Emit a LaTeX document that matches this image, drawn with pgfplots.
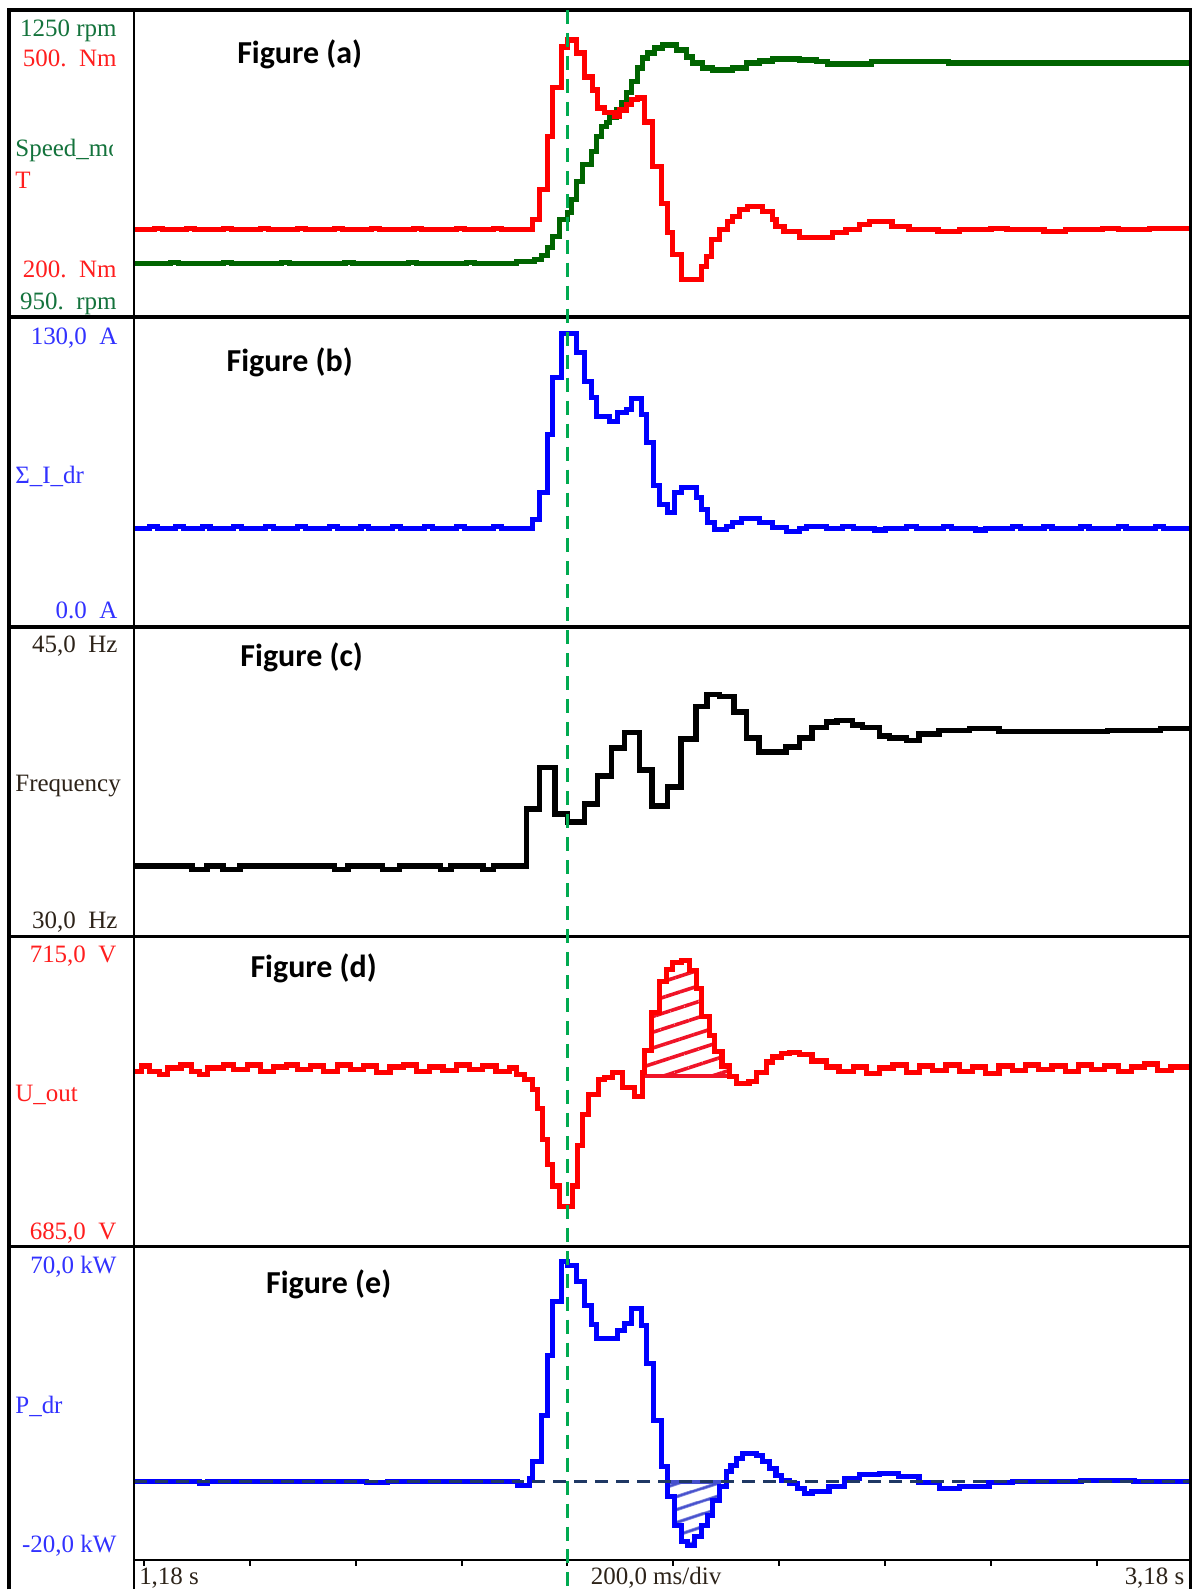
\documentclass[border=0pt]{standalone}
\usepackage{pgfplots}
\pgfplotsset{compat=1.18}
\usetikzlibrary{patterns.meta}
\usepackage{fontspec}
\setmainfont{Liberation Serif}
\newfontfamily\titlefont{Carlito}

\definecolor{spd}{RGB}{0,100,0}
\definecolor{spdlbl}{RGB}{20,115,60}
\definecolor{lblred}{RGB}{255,30,30}
\definecolor{lblblue}{RGB}{50,50,255}
\definecolor{lbldark}{RGB}{45,35,25}
\definecolor{cursor}{RGB}{0,170,80}
\definecolor{zeroline}{RGB}{31,56,100}
\definecolor{hatchblue}{RGB}{70,80,205}
\definecolor{hatchred}{RGB}{240,20,40}

\pgfplotsset{
  panel/.style={scale only axis, width=529bp, hide axis,
    xmin=1.1611, xmax=3.1574, anchor=north west},
  trace/.style={const plot, no marks, line width=2.6bp},
}

\newcommand{\lbl}{\fontsize{12.5bp}{14bp}\selectfont}
\newcommand{\ttl}{\titlefont\bfseries\fontsize{16bp}{18bp}\selectfont}

\begin{document}
\begin{tikzpicture}
\begin{scope}[x=0.5bp,y=-0.5bp]
  \fill[white] (0,0) rectangle (1195,1591);
  \useasboundingbox (0,0) rectangle (1195,1591);
\end{scope}

% ---------- (a) speed and torque ----------
\begin{axis}[panel, at={(67bp,-5bp)}, height=152.5bp, ymin=950, ymax=1250]
\addplot[trace, spd] coordinates {
(1.161,1000.2) (1.230,1001.7) (1.245,1000.2) (1.330,1001.7) (1.345,1000.2)
(1.440,1001.7) (1.455,1000.2) (1.560,1001.7) (1.575,1000.2) (1.680,1001.7)
(1.695,1000.2) (1.790,1001.7) (1.805,1000.2) (1.884,1002.1) (1.918,1004.1)
(1.931,1008.0) (1.942,1015.9) (1.952,1026.7) (1.965,1043.4) (1.980,1050.3)
(1.988,1063.1) (1.997,1080.8) (2.008,1097.5) (2.025,1110.3) (2.035,1125.1)
(2.044,1134.9) (2.054,1138.9) (2.059,1143.8) (2.072,1151.6) (2.082,1158.5)
(2.091,1168.4) (2.101,1179.2) (2.112,1192.9) (2.122,1202.8) (2.131,1207.7)
(2.144,1212.6) (2.159,1215.6) (2.186,1210.7) (2.205,1203.8) (2.216,1197.9)
(2.235,1192.9) (2.254,1191.0) (2.291,1192.9) (2.318,1197.9) (2.342,1199.8)
(2.367,1201.8) (2.418,1200.8) (2.450,1198.9) (2.471,1196.9) (2.555,1198.9)
(2.700,1197.9) (2.850,1197.9) (3.158,1197.9)};
\end{axis}
\begin{axis}[panel, at={(67bp,-5bp)}, height=152.5bp, ymin=200, ymax=500]
\addplot[trace, red] coordinates {
(1.161,283.6) (1.200,285.1) (1.215,283.6) (1.260,285.1) (1.275,283.6)
(1.330,285.1) (1.345,283.6) (1.400,285.1) (1.415,283.6) (1.470,285.1)
(1.485,283.6) (1.540,285.1) (1.555,283.6) (1.610,285.1) (1.625,283.6)
(1.690,285.1) (1.705,283.6) (1.770,285.1) (1.785,283.6) (1.840,285.1)
(1.855,283.6) (1.914,293.4) (1.927,323.0) (1.942,375.1) (1.952,423.3)
(1.969,463.6) (1.980,470.5) (1.997,457.7) (2.012,434.1) (2.027,421.3)
(2.037,403.6) (2.050,398.7) (2.069,394.8) (2.078,401.6) (2.091,406.6)
(2.101,411.5) (2.112,413.4) (2.125,389.8) (2.140,345.6) (2.157,309.2)
(2.169,280.7) (2.178,259.0) (2.195,234.4) (2.233,247.2) (2.242,257.0)
(2.252,273.8) (2.267,283.6) (2.282,291.5) (2.291,296.4) (2.305,303.3)
(2.320,306.2) (2.348,301.3) (2.367,293.4) (2.374,286.6) (2.389,281.6)
(2.418,275.7) (2.480,280.7) (2.506,283.6) (2.531,288.5) (2.550,291.5)
(2.593,286.6) (2.625,283.6) (2.680,281.6) (2.720,283.6) (2.780,285.1)
(2.810,283.6) (2.880,281.6) (2.920,283.6) (2.990,285.1) (3.020,283.6)
(3.080,285.1) (3.110,284.6) (3.158,284.6)};
\end{axis}

% ---------- (b) current ----------
\begin{axis}[panel, at={(67bp,-160bp)}, height=152.5bp, ymin=0, ymax=130]
\addplot[trace, blue] coordinates {
(1.161,40.9) (1.190,41.6) (1.205,40.9) (1.240,41.6) (1.255,40.9)
(1.290,41.6) (1.305,40.9) (1.350,41.6) (1.365,40.9) (1.410,41.6)
(1.425,40.9) (1.470,41.6) (1.485,40.9) (1.530,41.6) (1.545,40.9)
(1.590,41.6) (1.605,40.9) (1.650,41.6) (1.665,40.9) (1.710,41.6)
(1.725,40.9) (1.770,41.6) (1.785,40.9) (1.840,41.6) (1.855,40.9)
(1.914,44.8) (1.927,56.3) (1.942,81.0) (1.952,105.3) (1.969,124.0)
(1.997,115.9) (2.012,103.6) (2.025,96.7) (2.035,88.6) (2.059,86.5)
(2.074,90.4) (2.091,91.6) (2.101,96.3) (2.120,89.5) (2.129,77.6)
(2.142,59.2) (2.154,51.1) (2.169,47.7) (2.182,56.3) (2.195,58.4)
(2.223,54.1) (2.233,49.0) (2.244,43.5) (2.257,40.5) (2.280,41.8)
(2.291,43.5) (2.308,45.2) (2.342,43.5) (2.367,41.3) (2.393,39.6)
(2.418,40.9) (2.431,41.8) (2.470,40.9) (2.500,41.6) (2.520,40.9)
(2.560,40.3) (2.580,40.9) (2.620,41.6) (2.640,40.9) (2.690,41.6)
(2.705,40.9) (2.750,40.3) (2.770,40.9) (2.820,41.6) (2.835,40.9)
(2.880,41.6) (2.895,40.9) (2.950,41.6) (2.965,40.9) (3.020,41.6)
(3.035,40.9) (3.090,41.6) (3.105,40.9) (3.158,40.9)};
\end{axis}

% ---------- (c) frequency ----------
\begin{axis}[panel, at={(67bp,-315bp)}, height=152.5bp, ymin=30, ymax=45]
\addplot[trace, black, line width=2.8bp] coordinates {
(1.161,33.34) (1.271,33.19) (1.299,33.34) (1.329,33.19) (1.361,33.34)
(1.540,33.19) (1.565,33.34) (1.631,33.19) (1.663,33.34) (1.740,33.19)
(1.760,33.34) (1.820,33.19) (1.840,33.34) (1.903,36.15) (1.927,38.21)
(1.956,35.90) (1.980,35.51) (2.012,36.39) (2.037,37.77) (2.063,39.15)
(2.088,39.93) (2.116,38.07) (2.140,36.30) (2.169,37.23) (2.195,39.59)
(2.223,41.21) (2.244,41.80) (2.267,41.70) (2.295,40.92) (2.318,39.64)
(2.342,38.95) (2.393,39.20) (2.418,39.64) (2.442,40.18) (2.469,40.43)
(2.489,40.52) (2.518,40.28) (2.537,40.18) (2.569,39.74) (2.588,39.64)
(2.620,39.54) (2.644,39.84) (2.682,40.03) (2.739,40.13) (2.795,39.98)
(2.900,39.98) (3.000,40.03) (3.100,40.13) (3.158,40.13)};
\end{axis}

% ---------- (d) output voltage ----------
\begin{axis}[panel, at={(67bp,-470bp)}, height=152.5bp, ymin=685, ymax=715]
\addplot[const plot, no marks, draw=hatchred, line width=2.2bp,
  pattern={Lines[angle=18, distance=7.5bp, line width=1.8bp]}, pattern color=hatchred]
  coordinates {
(2.122,701.5) (2.125,704.0) (2.139,707.8) (2.154,710.8) (2.167,712.0)
(2.178,712.7) (2.195,712.9) (2.210,711.9) (2.223,710.1) (2.233,707.4)
(2.248,705.5) (2.257,703.9) (2.272,702.5) (2.286,701.5)} -- cycle;
\addplot[trace, red] coordinates {
(1.161,702.0) (1.175,702.5) (1.190,702.0) (1.210,701.7) (1.225,702.3)
(1.250,702.6) (1.270,702.0) (1.285,701.7) (1.300,702.3) (1.330,702.6)
(1.350,702.2) (1.375,702.6) (1.400,702.0) (1.425,702.4) (1.450,702.6)
(1.470,702.2) (1.495,702.5) (1.520,702.0) (1.545,702.6) (1.570,702.2)
(1.595,702.5) (1.620,701.9) (1.645,702.4) (1.670,702.6) (1.695,702.0)
(1.720,702.4) (1.745,702.1) (1.770,702.6) (1.795,702.2) (1.820,702.5)
(1.845,702.0) (1.870,702.3) (1.884,701.7) (1.899,701.2) (1.914,700.2)
(1.923,698.3) (1.933,695.3) (1.942,692.8) (1.952,690.7) (1.965,688.7)
(1.989,690.7) (1.999,694.7) (2.008,697.7) (2.020,699.7) (2.038,701.2)
(2.050,701.4) (2.065,701.9) (2.084,700.4) (2.106,699.5) (2.122,701.9)
(2.125,704.0) (2.139,707.8) (2.154,710.8) (2.167,712.0) (2.178,712.7)
(2.195,712.9) (2.210,711.9) (2.223,710.1) (2.233,707.4) (2.248,705.5)
(2.257,703.9) (2.272,702.5) (2.286,701.5) (2.299,700.8) (2.323,701.0)
(2.337,701.9) (2.356,702.9) (2.367,703.4) (2.384,703.7) (2.399,703.8)
(2.418,703.6) (2.442,703.0) (2.469,702.4) (2.493,702.0) (2.520,702.4)
(2.545,701.8) (2.570,702.3) (2.595,702.6) (2.620,701.9) (2.645,702.5)
(2.670,702.1) (2.695,702.6) (2.720,702.0) (2.745,702.4) (2.770,701.8)
(2.795,702.5) (2.820,702.1) (2.845,702.6) (2.870,702.2) (2.895,702.5)
(2.920,702.0) (2.945,702.6) (2.970,702.2) (2.995,702.5) (3.020,702.0)
(3.045,702.4) (3.070,702.7) (3.095,702.1) (3.120,702.4) (3.158,702.2)};
\end{axis}

% ---------- (e) power ----------
\begin{axis}[panel, at={(67bp,-625bp)}, height=156bp, ymin=-20, ymax=70]
\addplot[const plot, no marks, draw=hatchblue, line width=2bp,
  pattern={Lines[angle=18, distance=6bp, line width=1.6bp]}, pattern color=hatchblue]
  coordinates {
(2.169,2.79) (2.169,-1.54) (2.182,-9.90) (2.195,-14.52) (2.206,-15.67)
(2.220,-13.08) (2.233,-9.90) (2.244,-7.02) (2.254,-2.69) (2.267,2.79)} -- cycle;
\addplot[trace, blue] coordinates {
(1.161,2.79) (1.285,2.21) (1.300,2.79) (1.600,2.50) (1.640,2.79)
(1.886,1.63) (1.908,3.65) (1.914,8.56) (1.931,21.83) (1.942,39.13)
(1.952,54.71) (1.969,66.25) (1.980,65.10) (1.997,60.48) (2.012,53.56)
(2.025,48.08) (2.035,44.04) (2.074,46.35) (2.088,48.37) (2.101,52.69)
(2.120,47.79) (2.129,36.83) (2.142,20.38) (2.157,7.12) (2.169,-1.54)
(2.182,-9.90) (2.195,-14.52) (2.206,-15.67) (2.220,-13.08) (2.233,-9.90)
(2.244,-7.02) (2.254,-2.69) (2.267,1.35) (2.280,5.67) (2.289,7.40)
(2.299,9.42) (2.310,10.87) (2.337,10.29) (2.348,8.56) (2.361,6.54)
(2.374,4.52) (2.385,3.08) (2.399,2.21) (2.414,0.77) (2.427,-0.67)
(2.442,-0.10) (2.474,1.35) (2.503,3.65) (2.531,4.81) (2.569,5.10)
(2.606,4.23) (2.644,2.50) (2.682,0.77) (2.720,1.35) (2.776,2.50)
(2.820,2.79) (2.950,3.08) (3.050,2.79) (3.158,2.79)};
\addplot[zeroline, line width=1.4bp, dash pattern=on 6.5bp off 4bp]
  coordinates {(1.1611,2.79) (3.1574,2.79)};
\end{axis}

\begin{scope}[x=0.5bp,y=-0.5bp]
  % frame
  \draw[line width=1.6bp] (9,1591) -- (9,10) -- (1192,10) -- (1192,1591);
  \draw[line width=1.25bp] (134,10) -- (134,1591);
  \foreach \yy in {317.5,627.5,937.5,1247.5}
    \draw[line width=1.7bp] (9,\yy) -- (1192,\yy);
  \draw[line width=1bp] (134,1562) -- (1192,1562);
  \foreach \k in {0,...,9}
    \draw[line width=1bp] ({144+106*\k},1562) -- ({144+106*\k},1568);

  % cursor
  \draw[cursor, line width=1.1bp, dash pattern=on 7bp off 4.5bp] (568,10) -- (568,1591);

  \tikzset{lab/.style={inner sep=0pt, text height=8.5bp, text depth=0pt, font=\lbl}}
  % panel (a)
  \node[lab, anchor=east, spdlbl] at (117,28) {1250 rpm};
  \node[lab, anchor=east, lblred] at (117,58) {500.\ \ Nm};
  \begin{scope}
    \clip (12,120) rectangle (113,175);
    \node[lab, anchor=west, spdlbl] at (15,148) {Speed\_motor};
  \end{scope}
  \node[lab, anchor=west, lblred] at (15,180) {T};
  \node[lab, anchor=east, lblred] at (117,269) {200.\ \ Nm};
  \node[lab, anchor=east, spdlbl] at (117,301) {950.\ \ rpm};
  % panel (b)
  \node[lab, anchor=east, lblblue] at (118,336) {130,0\ \ A};
  \node[lab, anchor=west, lblblue] at (15,475) {Σ\_I\_dr};
  \node[lab, anchor=east, lblblue] at (118,611) {0.0\ \ A};
  % panel (c)
  \node[lab, anchor=east, lbldark] at (118,645) {45,0\ \ Hz};
  \node[lab, anchor=west, lbldark] at (15,784) {Frequency};
  \node[lab, anchor=east, lbldark] at (118,921) {30,0\ \ Hz};
  % panel (d)
  \node[lab, anchor=east, lblred] at (117,955) {715,0\ \ V};
  \node[lab, anchor=west, lblred] at (15,1094) {U\_out};
  \node[lab, anchor=east, lblred] at (117,1232) {685,0\ \ V};
  % panel (e)
  \node[lab, anchor=east, lblblue] at (117,1266) {70,0 kW};
  \node[lab, anchor=west, lblblue] at (15,1406) {P\_dr};
  \node[lab, anchor=east, lblblue] at (117,1546) {-20,0 kW};
  % time axis
  \node[lab, anchor=west, lbldark] at (139,1578) {1,18 s};
  \node[lab, anchor=west, lbldark] at (591,1578) {200,0 ms/div};
  \node[lab, anchor=east, lbldark] at (1186,1578) {3,18 s};

  % panel titles
  \node[font=\ttl] at (300,54) {Figure (a)};
  \node[font=\ttl] at (290,363) {Figure (b)};
  \node[font=\ttl] at (302,658) {Figure (c)};
  \node[font=\ttl] at (314,969) {Figure (d)};
  \node[font=\ttl] at (329,1286) {Figure (e)};
\end{scope}
\end{tikzpicture}
\end{document}
